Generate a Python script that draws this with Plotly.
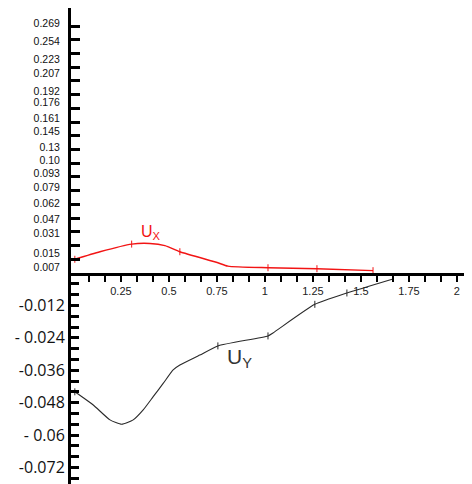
import numpy as np
import plotly.graph_objects as go

# ---- data ----
UX_X = [0.01, 0.141, 0.306, 0.401, 0.479, 0.557, 0.755, 0.807, 1.016, 1.271, 1.563]
UX_Y = [0.0114, 0.0160, 0.0221, 0.0226, 0.0209, 0.0160, 0.0094, 0.0075, 0.0061, 0.0050, 0.0027]

UY_X = [0.010, 0.106, 0.193, 0.254, 0.314, 0.366, 0.418, 0.470, 0.522, 0.557,
        0.661, 0.755, 1.016, 1.042, 1.260, 1.427, 1.667]
UY_Y = [-0.0440, -0.0489, -0.0544, -0.0560, -0.0544, -0.0507, -0.0458, -0.0409, -0.0359, -0.0341,
        -0.0304, -0.0270, -0.0233, -0.0222, -0.0116, -0.0074, -0.0022]

X_TICK_LABELS = ["0.25", "0.5", "0.75", "1", "1.25", "1.5", "1.75", "2"]
X_TICK_VALUES = [0.25, 0.5, 0.75, 1, 1.25, 1.5, 1.75, 2]

# upper (positive) axis labels -- the reference axis is not linear
Y_POS_LABELS = ["0.007", "0.015", "0.031", "0.047", "0.062", "0.079", "0.093", "0.10", "0.13",
                "0.145", "0.161", "0.176", "0.192", "0.207", "0.223", "0.254", "0.269"]
Y_POS_LABEL_VALUES = [0.007, 0.015, 0.031, 0.047, 0.062, 0.079, 0.093, 0.10, 0.13,
                      0.145, 0.161, 0.176, 0.192, 0.207, 0.223, 0.254, 0.269]

Y_NEG_LABELS = ["-0.012", "- 0.024", "-0.036", "-0.048", "- 0.06", "-0.072"]
Y_NEG_LABEL_VALUES = [-0.012, -0.024, -0.036, -0.048, -0.06, -0.072]

# ---- style / layout helpers ----
# which sample points carry a small tick mark on the curves
UX_MARKED = [0, 2, 5, 8, 9, 10]
UY_MARKED = [0, 11, 12, 14, 15]
# where each upper-axis label sits, in tick steps above the zero line
POS_LABEL_STEPS = [0.44, 1.46, 2.92, 3.94, 5.10, 6.27, 7.29, 8.24, 9.18,
                   10.35, 11.30, 12.46, 13.27, 14.58, 15.60, 16.91, 18.22]
POS_TICK_STEPS = list(range(1, 19))


def pos_scale(v):
    return np.interp(v, [0.0] + Y_POS_LABEL_VALUES, [0.0] + POS_LABEL_STEPS)


# the page draws the figure with an 8px body margin; compensate
OFF = 8
W, H = 472, 484
L, R, T, B = 71 - OFF, 0, 8 - OFF, 0
zero_fig = 273 - OFF                 # zero line, figure px
top_px = zero_fig - T                # height of upper part
bot_px = H - B - zero_fig            # height of lower part
split = bot_px / (H - T - B)
STEP = 13.72                         # px per upper tick step
top_units = top_px / STEP
NEG_SCALE = 2700.0                   # px per unit on lower axis
neg_min = -bot_px / NEG_SCALE
XS = 192.0                           # px per x unit
x_min = -0.01
x_max = x_min + (W - L - R) / XS

ux_disp = pos_scale(UX_Y)

fig = go.Figure()

fig.add_trace(go.Scatter(
    x=UX_X, y=ux_disp, xaxis="x", yaxis="y2", mode="lines",
    line=dict(color="#f21414", width=1.4, shape="spline", smoothing=0.6),
    hoverinfo="skip", showlegend=False))
fig.add_trace(go.Scatter(
    x=[UX_X[i] for i in UX_MARKED], y=[ux_disp[i] for i in UX_MARKED],
    xaxis="x", yaxis="y2", mode="markers",
    marker=dict(symbol="line-ns", size=5, line=dict(color="#f21414", width=1)),
    hoverinfo="skip", showlegend=False))

fig.add_trace(go.Scatter(
    x=UY_X, y=UY_Y, xaxis="x", yaxis="y", mode="lines",
    line=dict(color="#2a2a2a", width=1.1, shape="spline", smoothing=0.5),
    hoverinfo="skip", showlegend=False))
fig.add_trace(go.Scatter(
    x=[UY_X[i] for i in UY_MARKED], y=[UY_Y[i] for i in UY_MARKED],
    xaxis="x", yaxis="y", mode="markers",
    marker=dict(symbol="line-ns", size=5, line=dict(color="#2a2a2a", width=1)),
    hoverinfo="skip", showlegend=False))

# helper trace so the tick-mark axis exists
fig.add_trace(go.Scatter(x=[0], y=[0], xaxis="x", yaxis="y3", mode="markers",
                         marker=dict(opacity=0), hoverinfo="skip", showlegend=False))

neg_ticks = np.round(np.arange(-0.004, neg_min, -0.004), 4)
neg_text = []
for t in neg_ticks:
    lab = ""
    for v, s in zip(Y_NEG_LABEL_VALUES, Y_NEG_LABELS):
        if abs(v - t) < 1e-6:
            lab = s
    neg_text.append(lab)

x_ticks = np.arange(1, 26) / 12.0
x_text = []
for t in x_ticks:
    lab = ""
    for v, s in zip(X_TICK_VALUES, X_TICK_LABELS):
        if abs(v - t) < 1e-6:
            lab = s
    x_text.append(lab)

fig.update_layout(
    width=W, height=H,
    margin=dict(l=L, r=R, t=T, b=B, pad=0),
    paper_bgcolor="white", plot_bgcolor="white",
    showlegend=False,
    xaxis=dict(
        domain=[0, 1], range=[x_min, x_max], anchor="y2",
        showgrid=False, zeroline=False, showline=True, linecolor="black", linewidth=3,
        tickmode="array", tickvals=x_ticks, ticktext=x_text,
        ticks="outside", ticklen=6, tickwidth=2, tickcolor="black",
        tickfont=dict(family="Liberation Sans, Arial", size=11, color="#222")),
    yaxis=dict(
        domain=[0, split], range=[neg_min, 0], anchor="x",
        showgrid=False, zeroline=False, showline=True, linecolor="black", linewidth=3,
        tickmode="array", tickvals=neg_ticks, ticktext=neg_text,
        ticks="inside", ticklen=8, tickwidth=3, tickcolor="black",
        ticklabeloverflow="allow",
        tickfont=dict(family="Open Sans", size=16, color="#111")),
    yaxis2=dict(
        domain=[split, 1], range=[0, top_units], anchor="x",
        showgrid=False, zeroline=False, showline=True, linecolor="black", linewidth=3,
        tickmode="array", tickvals=POS_LABEL_STEPS, ticktext=Y_POS_LABELS,
        ticks="", ticklabelstandoff=6,
        tickfont=dict(family="Liberation Sans, Arial", size=10.5, color="#111")),
    yaxis3=dict(
        overlaying="y2", range=[0, top_units], anchor="x",
        showgrid=False, zeroline=False, showline=False, showticklabels=False,
        tickmode="array", tickvals=POS_TICK_STEPS,
        ticks="inside", ticklen=9, tickwidth=3, tickcolor="black"),
)

fig.add_annotation(x=0.406, y=pos_scale(0.031), xref="x", yref="y2",
                   text="U<sub>X</sub>", showarrow=False,
                   font=dict(family="Liberation Sans, Arial", size=16, color="#f21414"))
fig.add_annotation(x=0.865, y=-0.0315, xref="x", yref="y",
                   text="U<sub>Y</sub>", showarrow=False,
                   font=dict(family="Liberation Sans, Arial", size=21, color="#333"))
fig.add_annotation(x=1.85, y=-0.0763, xref="x", yref="y", yanchor="top",
                   text="P", showarrow=False,
                   font=dict(family="Liberation Serif, Times New Roman", size=24, color="black"))

fig.write_html("out.html")
